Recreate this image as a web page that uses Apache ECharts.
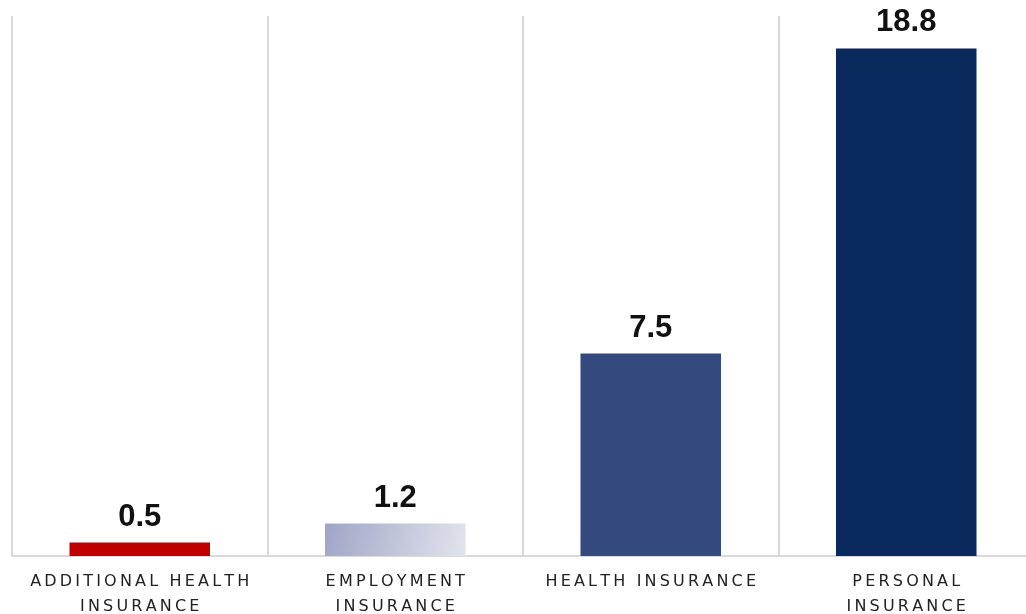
<!DOCTYPE html>
<html>
<head>
<meta charset="utf-8">
<script src="https://cdn.jsdelivr.net/npm/echarts@6/dist/echarts.min.js"></script>
<style>
  html, body { margin: 0; padding: 0; background: #fff; }
  #chart { width: 1026px; height: 614px; }
</style>
</head>
<body>
<div id="chart"></div>
<script>
var categories = ['ADDITIONAL HEALTH\nINSURANCE', 'EMPLOYMENT\nINSURANCE', 'HEALTH INSURANCE', 'PERSONAL\nINSURANCE'];
var values = [0.5, 1.2, 7.5, 18.8];
var barColors = ['#c00000', null, '#344a7e', '#0a2a5e'];

// spread the letters a bit, like the original caption
function spaced(s) {
    return s.split('\n').map(function (line) {
        return line.split('').join('\u2009');
    }).join('\n');
}

var chart = echarts.init(document.getElementById('chart'));

var data = values.map(function (v, i) {
    var color = barColors[i];
    if (!color) {
        color = new echarts.graphic.LinearGradient(0, 0, 1, 1, [
            {offset: 0, color: '#9fa5c7'},
            {offset: 1, color: '#e2e4ec'}
        ]);
    }
    return {value: v, itemStyle: {color: color}};
});

var option = {
    animation: false,
    grid: {left: 12, right: -8, top: 16, bottom: 58, containLabel: false, outerBoundsMode: 'none'},
    xAxis: {
        type: 'category',
        data: categories,
        axisLine: {show: true, lineStyle: {color: '#d9d9d9', width: 2}},
        axisTick: {show: false},
        splitLine: {show: true, lineStyle: {color: '#d9d9d9', width: 2}},
        axisLabel: {
            interval: 0,
            margin: 13,
            color: '#222',
            fontFamily: 'DejaVu Sans',
            fontSize: 16,
            lineHeight: 25,
            formatter: function (v) { return spaced(v); }
        }
    },
    yAxis: {
        type: 'value',
        min: 0,
        max: 20,
        show: false,
        splitLine: {show: false}
    },
    series: [{
        type: 'bar',
        barWidth: '55%',
        data: data,
        label: {
            show: true,
            position: 'top',
            distance: 10,
            color: '#111',
            fontFamily: 'Liberation Sans',
            fontWeight: 'bold',
            fontSize: 31,
            formatter: function (p) { return p.value.toFixed(1); }
        }
    }]
};
chart.setOption(option);
</script>
</body>
</html>
